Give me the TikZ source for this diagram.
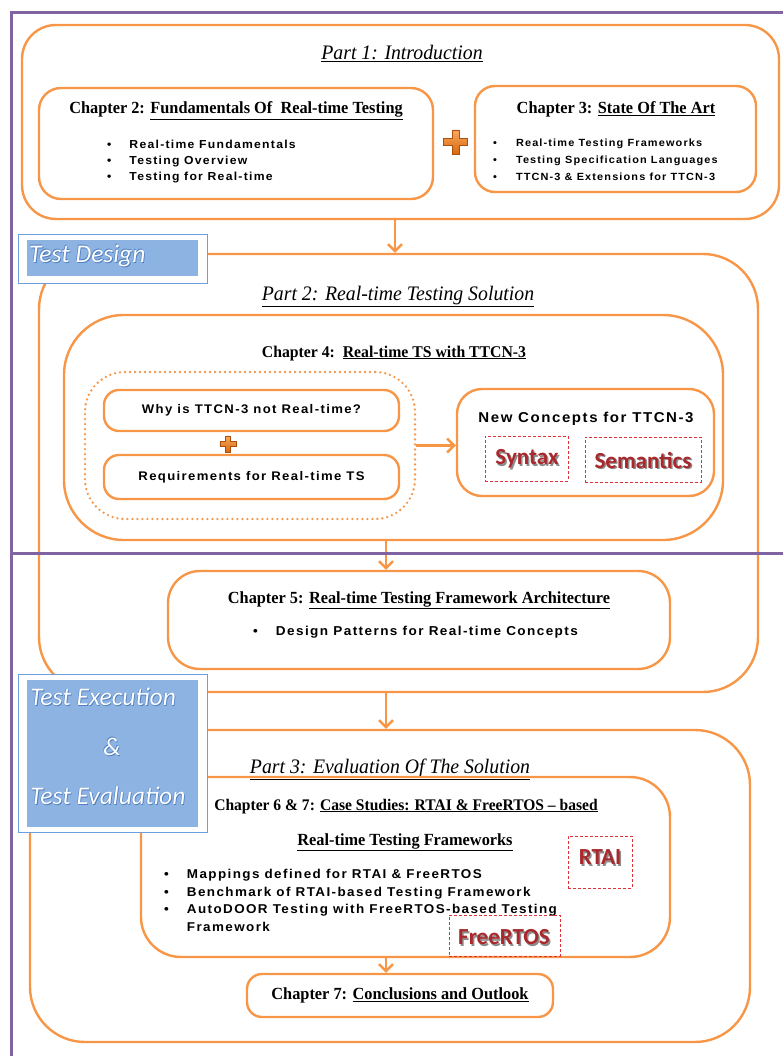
\documentclass[tikz,border=0pt]{standalone}
\usepackage{fontspec}
\setmainfont{Liberation Serif}
\newfontfamily\headserif[FakeStretch=0.96,Ligatures=TeX]{Liberation Serif}
\newfontfamily\itemsfont[LetterSpace=11,FakeStretch=1.05]{Liberation Sans}
\newfontfamily\calfont{Carlito}
\usetikzlibrary{arrows.meta}

\definecolor{orbox}{HTML}{F79646}
\definecolor{framepurple}{HTML}{8064A2}
\definecolor{labelblue}{HTML}{8DB3E2}
\definecolor{labeledge}{HTML}{6C9EE0}
\definecolor{glowblue}{HTML}{4F7FC0}
\definecolor{logored}{HTML}{A8282C}
\definecolor{dashred}{HTML}{E0303A}
\definecolor{plustop}{HTML}{FAA85E}
\definecolor{plusbot}{HTML}{D8680E}
\definecolor{plusdark}{HTML}{A8500C}

\newcommand\itemfont[2]{\itemsfont\bfseries\fontsize{#1}{#2}\selectfont}
\newcommand\headfont{\headserif\bfseries\fontsize{17}{19}\selectfont}
% white label text with a blue edge
\newcommand\glowtext[1]{\makebox[0pt][l]{\color{glowblue}\hspace{.8pt}\raisebox{-.8pt}{#1}}\makebox[0pt][l]{\color{glowblue}\hspace{-.5pt}\raisebox{.5pt}{#1}}{\color{white}#1}}
% red logo text with a grey shadow
\newcommand\logotext[1]{\makebox[0pt][l]{\color{black!45}\hspace{1.5pt}\raisebox{-1.5pt}{#1}}{\color{logored}#1}}

\tikzset{
  plussign/.pic={
    \shade[draw=plusdark, line width=.5pt, top color=plustop, bottom color=plusbot]
      (-3.5,-12) -- (3.5,-12) -- (3.5,-3.5) -- (12,-3.5) -- (12,3.5) -- (3.5,3.5)
      -- (3.5,12) -- (-3.5,12) -- (-3.5,3.5) -- (-12,3.5) -- (-12,-3.5) -- (-3.5,-3.5) -- cycle;
  }
}

\begin{document}
\begin{tikzpicture}[x=1pt,y=-1pt,
  box/.style={draw=orbox, line width=2.4pt, inner sep=0pt},
  dotbox/.style={draw=orbox, line width=2.6pt, line cap=round, dash pattern=on 0pt off 5pt, inner sep=0pt},
  logobox/.style={draw=dashred, densely dashed, line width=.8pt, inner sep=0pt},
  arr/.style={draw=orbox, line width=2.4pt, -{Straight Barb[length=7pt,width=14pt]}},
  stagebox/.style={draw=labeledge, line width=1pt, fill=white, inner sep=0pt},
  stagefill/.style={fill=labelblue, inner sep=0pt},
  stage/.style={font=\calfont\itshape\fontsize{25.5}{28}\selectfont, inner sep=0pt},
  parttitle/.style={font=\headserif\itshape\fontsize{20.6}{24}\selectfont, inner sep=0pt, anchor=base},
  head/.style={font=\headfont, inner sep=0pt, anchor=base},
  items/.style={anchor=west, inner sep=0pt},
  logo/.style={font=\calfont\bfseries\fontsize{23}{25}\selectfont, inner sep=0pt},
  frame/.style={draw=framepurple, line width=3pt}]
\useasboundingbox (0,0) rectangle (783,1056);

% part 1
\node[box, rounded corners=34pt, minimum width=757pt, minimum height=194pt] (part1) at (400.5,122) {};
\node[box, rounded corners=22pt, minimum width=394pt, minimum height=111pt] (ch2) at (236,143.5) {};
\node[box, rounded corners=20pt, minimum width=281pt, minimum height=106pt] (ch3) at (615.5,139) {};
\node[parttitle] (intro) at (402,60) {\underline{Part 1: Introduction}};
\node[head] (ch2title) at (236,114) {Chapter 2: \underline{Fundamentals Of\ \ Real-time Testing}};
\node[items, font=\itemfont{11.6}{16}] (ch2items) at (107,161) {\begin{tabular}{@{}l@{\hspace{18pt}}l@{}}
  \textbullet & Real-time Fundamentals\\
  \textbullet & Testing Overview\\
  \textbullet & Testing for Real-time
\end{tabular}};
\node[head] (ch3title) at (616,114) {Chapter 3: \underline{State Of The Art}};
\node[items, font=\itemfont{10.4}{17}] (ch3items) at (493,160) {\begin{tabular}{@{}l@{\hspace{19pt}}l@{}}
  \textbullet & Real-time Testing Frameworks\\
  \textbullet & Testing Specification Languages\\
  \textbullet & TTCN-3 \& Extensions for TTCN-3
\end{tabular}};
\pic at (455.5,142) {plussign};

% part 2
\node[box, rounded corners=55pt, minimum width=719pt, minimum height=438pt] (part2) at (398.5,473) {};
\node[parttitle] (solution) at (398,300) {\underline{Part 2: Real-time Testing Solution}};
\node[box, rounded corners=60pt, minimum width=659pt, minimum height=225pt] (ch4) at (393.5,427.5) {};
\node[head, font=\headserif\bfseries\fontsize{16.4}{19}\selectfont] (ch4title) at (394,357) {Chapter 4:\ \ \underline{Real-time TS with TTCN-3}};
\node[dotbox, rounded corners=40pt, minimum width=330pt, minimum height=147pt] (reqgroup) at (250,445.5) {};
\node[box, rounded corners=15pt, minimum width=295pt, minimum height=41pt, font=\itemfont{12.5}{14}] (whynot) at (251.5,410.5) {Why is TTCN-3 not Real-time?};
\node[box, rounded corners=15pt, minimum width=295pt, minimum height=44pt, font=\itemfont{12.5}{14}] (reqs) at (251.5,477) {Requirements for Real-time TS};
\pic[scale=.68] at (228,444) {plussign};
\node[box, rounded corners=25pt, minimum width=257pt, minimum height=107pt] (concepts) at (585.5,442.5) {};
\node[font=\itemfont{14.3}{16}, inner sep=0pt] (conceptstitle) at (586,419) {New Concepts for TTCN-3};
\node[logobox, minimum width=83pt, minimum height=45pt] (syntax) at (526.5,458.5) {};
\node[logobox, minimum width=116pt, minimum height=45pt] (semantics) at (643,459.5) {};
\node[logo] (syntaxtext) at (527,460) {\logotext{Syntax}};
\node[logo] (semanticstext) at (643,461) {\logotext{Semantics}};
\node[box, rounded corners=32pt, minimum width=502pt, minimum height=98pt] (ch5) at (419,620) {};
\node[head] (ch5title) at (419,603) {Chapter 5: \underline{Real-time Testing Framework Architecture}};
\node[items, font=\itemfont{12.9}{16}] (ch5items) at (253,632) {\begin{tabular}{@{}l@{\hspace{18pt}}l@{}}
  \textbullet & Design Patterns for Real-time Concepts
\end{tabular}};

% part 3
\node[box, rounded corners=55pt, minimum width=720pt, minimum height=312pt] (part3) at (390,886) {};
\node[parttitle] (evaluation) at (390,773) {\underline{Part 3: Evaluation Of The Solution}};
\node[box, rounded corners=40pt, minimum width=529pt, minimum height=180pt] (ch6) at (405.5,867) {};
\node[head, font=\headserif\bfseries\fontsize{16.2}{19}\selectfont] (ch6title) at (406,810) {Chapter 6 \& 7: \underline{Case Studies: RTAI \& FreeRTOS \textendash\ based}};
\node[head] (ch6sub) at (405,845) {\underline{Real-time Testing Frameworks}};
\node[items, font=\itemfont{12.8}{17.5}] (ch6items) at (164,901.5) {\begin{tabular}{@{}l@{\hspace{18pt}}l@{}}
  \textbullet & Mappings defined for RTAI \& FreeRTOS\\
  \textbullet & Benchmark of RTAI-based Testing Framework\\
  \textbullet & AutoDOOR Testing with FreeRTOS-based Testing\\
              & Framework
\end{tabular}};
\node[logobox, minimum width=64pt, minimum height=52pt] (rtai) at (600,862) {};
\node[logobox, minimum width=111pt, minimum height=41pt] (freertos) at (504.5,935.5) {};
\node[logo] (rtaitext) at (600,858) {\logotext{RTAI}};
\node[logo] (freertostext) at (504,938) {\logotext{FreeRTOS}};
\node[box, rounded corners=15pt, minimum width=306pt, minimum height=43pt, font=\headfont] (ch7) at (400,995.5) {Chapter 7: \underline{Conclusions and Outlook}};

% flow
\coordinate (spine) at (386,0);
\coordinate (spine1) at (395,0);
\draw[arr] (spine1 |- part1.south) -- (spine1 |- part2.north);
\draw[arr] (reqgroup.east) -- (reqgroup.east -| concepts.west);
\draw[arr] (spine |- ch4.south) -- (spine |- ch5.north);
\draw[arr] (spine |- part2.south) -- (spine |- part3.north);
\draw[arr] (spine |- ch6.south) -- (spine |- ch7.north);

% stage labels
\node[stagebox, minimum width=189pt, minimum height=49pt] (designbox) at (112.5,259.5) {};
\node[stagefill, minimum width=171pt, minimum height=36pt] (designfill) at (112.5,258) {};
\node[stage, anchor=west] (design) at (29,256) {\glowtext{Test Design}};
\node[stagebox, minimum width=189pt, minimum height=158pt] (execbox) at (112.5,753) {};
\node[stagefill, minimum width=171pt, minimum height=147pt] (execfill) at (112.5,753.5) {};
\node[stage, anchor=west] (execution) at (30,697) {\glowtext{Test Execution}};
\node[stage] (amp) at (112,747) {\glowtext{\&}};
\node[stage, anchor=west] (evalstage) at (30,796) {\glowtext{Test Evaluation}};

% frame
\draw[frame] (783,13) -- (11,13) -- (11,1056);
\draw[frame] (11,553) -- (783,553);
\end{tikzpicture}
\end{document}
